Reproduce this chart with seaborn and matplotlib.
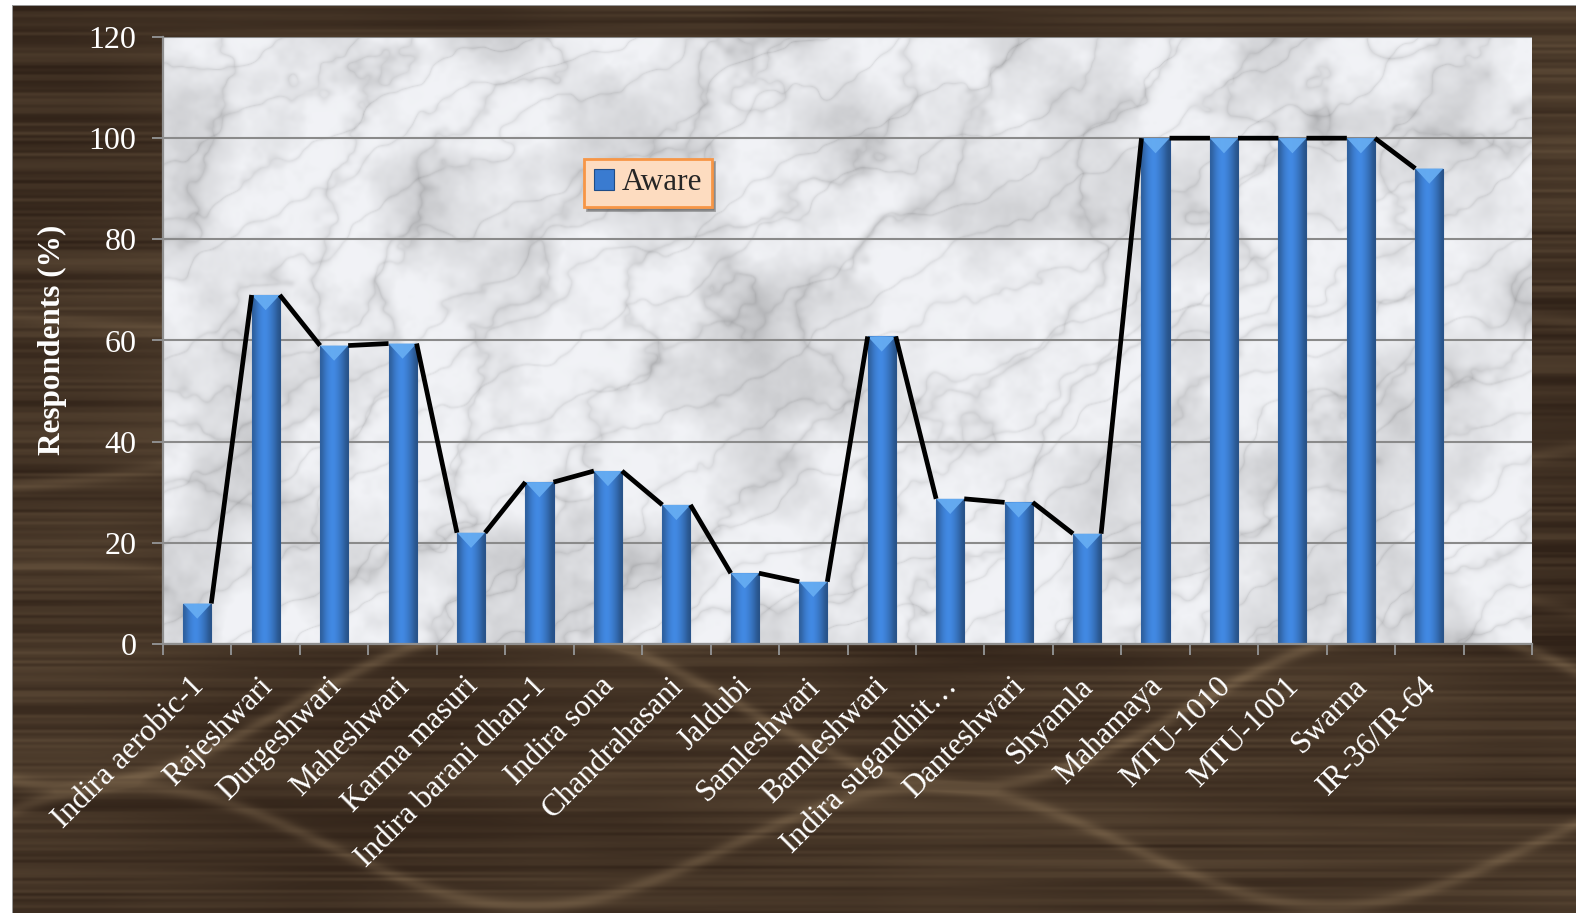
import numpy as np
import matplotlib
matplotlib.use("Agg")
import matplotlib.pyplot as plt
import matplotlib.transforms as mtransforms
from matplotlib.patches import Polygon, Patch
import seaborn as sns

# ---- data -------------------------------------------------------------
varieties = [
    "Indira aerobic-1", "Rajeshwari", "Durgeshwari", "Maheshwari",
    "Karma masuri", "Indira barani dhan-1", "Indira sona", "Chandrahasani",
    "Jaldubi", "Samleshwari", "Bamleshwari", "Indira sugandhit\u2026",
    "Danteshwari", "Shyamla", "Mahamaya", "MTU-1010", "MTU-1001",
    "Swarna", "IR-36/IR-64",
]
aware = [8, 69, 59, 59.4, 22, 32, 34.2, 27.5, 14, 12.3,
         60.8, 28.7, 28, 21.8, 100, 100, 100, 100, 94]
y_ticks = [0, 20, 40, 60, 80, 100, 120]
series_name = "Aware"
y_title = "Respondents (%)"

# ---- texture helpers ----------------------------------------------------
rng = np.random.default_rng(11)


def value_noise(h, w, ch, cw):
    g = rng.random((ch + 2, cw + 2))
    ys = np.linspace(0, ch, h)
    xs = np.linspace(0, cw, w)
    y0 = np.floor(ys).astype(int)
    x0 = np.floor(xs).astype(int)
    fy = ys - y0
    fx = xs - x0
    fy = fy * fy * (3 - 2 * fy)
    fx = fx * fx * (3 - 2 * fx)
    a = g[y0][:, x0]
    b = g[y0][:, x0 + 1]
    c = g[y0 + 1][:, x0]
    d = g[y0 + 1][:, x0 + 1]
    top = a + (b - a) * fx[None, :]
    bot = c + (d - c) * fx[None, :]
    return top + (bot - top) * fy[:, None]


def fbm(h, w, ch, cw, octaves):
    out = np.zeros((h, w))
    amp = 1.0
    tot = 0.0
    for o in range(octaves):
        out += amp * value_noise(h, w, ch * 2 ** o, cw * 2 ** o)
        tot += amp
        amp *= 0.5
    return out / tot


# wood panel behind everything
FH, FW = 913, 1576
wh, ww = FH - 6, FW - 13
rows, cols = np.mgrid[0:wh, 0:ww]
grain = value_noise(wh, ww, 300, 4)
grain2 = value_noise(wh, ww, 80, 3)
broad = fbm(wh, ww, 3, 5, 3)
wood_t = 0.26 * grain + 0.22 * grain2 + 0.35 * broad
curves = np.zeros((wh, ww))
for y0c, amp, wl, ph, s in [(300, 25, 1500, 0.4, 0.5), (450, 35, 1300, 2.1, 0.6),
                            (700, 80, 900, 1.2, 0.9), (840, 60, 800, 3.8, 0.8),
                            (600, 40, 1200, 4.5, 0.5)]:
    yc = y0c + amp * np.sin(2 * np.pi * cols / wl + ph)
    curves += s * np.exp(-((rows - yc) / 7.0) ** 2)
wood_t = wood_t + 0.4 * np.clip(curves, 0, 1)
dark = np.array([48, 34, 24]) / 255.0
light = np.array([115, 94, 70]) / 255.0
wt = np.clip((wood_t - 0.2) / 0.8, 0, 1)[..., None]
wood = dark + (light - dark) * wt

canvas = np.ones((FH, FW, 3))
canvas[6:, 13:] = wood
canvas[5, 12:] = 0.6
canvas[5:, 12] = 0.6

# marble inside the plotting area
mh, mw = 607, 1369
r2, c2 = np.mgrid[0:mh, 0:mw]
turb = fbm(mh, mw, 5, 10, 5)
cloud = fbm(mh, mw, 7, 16, 5)
speck = fbm(mh, mw, 30, 60, 3)
p1 = np.sin((c2 + 0.8 * r2) * 0.02 + 8.0 * turb)
p2 = np.sin((c2 * 0.6 + r2) * 0.05 + 6.0 * fbm(mh, mw, 8, 16, 4))
v1 = (1 - np.abs(p1)) ** 5
v2 = (1 - np.abs(p2)) ** 7
g = (0.97 - 0.35 * np.clip(cloud - 0.42, 0, 1)
     - 0.10 * v1 - 0.08 * v2 - 0.08 * np.clip(speck - 0.5, 0, 1))
g = np.clip(g, 0, 1)
marble = np.stack([g * 0.975, g * 0.98, g * 0.995], axis=-1).clip(0, 1)

# ---- figure ----------------------------------------------------------------
sns.set_style("white")
plt.rcParams["font.family"] = ["Liberation Serif", "DejaVu Serif"]

fig = plt.figure(figsize=(15.76, 9.13), dpi=100)
bg = fig.add_axes([0, 0, 1, 1])
bg.imshow(canvas, aspect="auto", interpolation="bilinear")
bg.set_axis_off()

left, right, top, bottom = 163, 1532, 37, 644
ax = fig.add_axes([left / FW, 1 - bottom / FH,
                   (right - left) / FW, (bottom - top) / FH])
ax.set_zorder(1)
ax.patch.set_visible(False)

n = len(varieties)
ax.imshow(marble, extent=[-0.5, n + 0.5, 0, 120], aspect="auto",
          zorder=0.1, interpolation="bilinear")

bar_w = 0.41
sns.barplot(x=varieties, y=aware, ax=ax, color="#3b7acb", saturation=1,
            width=bar_w, edgecolor="#24508c", linewidth=0.8, zorder=2)

# shaded bar faces with a bevelled top
shade = np.array([[0.72, 0.9, 1.0, 1.05, 1.0, 0.9, 0.78, 0.62]])
base = np.array([0.25, 0.52, 0.86])
grad = np.clip(shade[..., None] * base, 0, 1)
for p in ax.patches:
    x0 = p.get_x()
    w = p.get_width()
    h = p.get_height()
    im = ax.imshow(grad, extent=[x0, x0 + w, 0, h], aspect="auto",
                   zorder=2.1, interpolation="bicubic")
    im.set_clip_path(p)
    tri = Polygon([(x0, h), (x0 + w, h), (x0 + w / 2, h - 3.0)],
                  closed=True, facecolor="#66acf2", edgecolor="none",
                  alpha=0.95, zorder=2.2)
    ax.add_patch(tri)

# connector line between neighbouring bar tops
lx, ly = [], []
for i in range(n - 1):
    lx += [i + bar_w / 2, i + 1 - bar_w / 2, np.nan]
    ly += [aware[i], aware[i + 1], np.nan]
ax.plot(lx, ly, color="black", lw=3.4, zorder=3, solid_capstyle="butt")

ax.set_xlim(-0.5, n + 0.5)
ax.set_ylim(0, 120)
ax.set_yticks(y_ticks)
ax.set_axisbelow(True)
ax.yaxis.grid(True, color="#8a8a8a", lw=1.5, zorder=0.5)
ax.xaxis.grid(False)
for s in ["top", "right"]:
    ax.spines[s].set_visible(False)
for s in ["left", "bottom"]:
    ax.spines[s].set_color("#8f8f8f")
    ax.spines[s].set_linewidth(1.6)

ax.tick_params(axis="y", colors="#8f8f8f", labelcolor="white", length=8,
               width=1.4, labelsize=23, pad=11, direction="out", left=True)
ax.set_xticks(range(n))
ax.set_xticklabels(varieties, rotation=45, ha="right", va="top",
                   rotation_mode="anchor", color="white", fontsize=22.5)
ax.tick_params(axis="x", which="major", length=0, pad=20)
shift = mtransforms.ScaledTranslation(-8 / 100, 0, fig.dpi_scale_trans)
for lab in ax.get_xticklabels():
    lab.set_transform(lab.get_transform() + shift)
ax.set_xticks(np.arange(-0.5, n + 0.51, 1), minor=True)
ax.tick_params(axis="x", which="minor", length=8, width=1.4,
               color="#8f8f8f", direction="out", bottom=True)
ax.set_xlabel("")
ax.set_ylabel("")

fig.text(52 / FW, 1 - 340 / FH, y_title, rotation=90, ha="center",
         va="center", color="white", fontsize=22.5, fontweight="bold")

handle = Patch(facecolor="#3a7bd0", edgecolor="#1f4c86", lw=0.8)
leg = ax.legend([handle], [series_name], loc="center",
                bbox_to_anchor=(648 / FW, 1 - 183 / FH),
                bbox_transform=fig.transFigure, fontsize=22.5,
                handlelength=0.65, handleheight=0.65, handletextpad=0.25,
                borderpad=0.3, borderaxespad=0, fancybox=False, framealpha=1,
                shadow={"color": "0.35", "alpha": 0.5})
leg.get_frame().set_facecolor("#fddcc0")
leg.get_frame().set_edgecolor("#f79646")
leg.get_frame().set_linewidth(2)
leg.set_zorder(5)

fig.savefig("out.png", dpi=100)
